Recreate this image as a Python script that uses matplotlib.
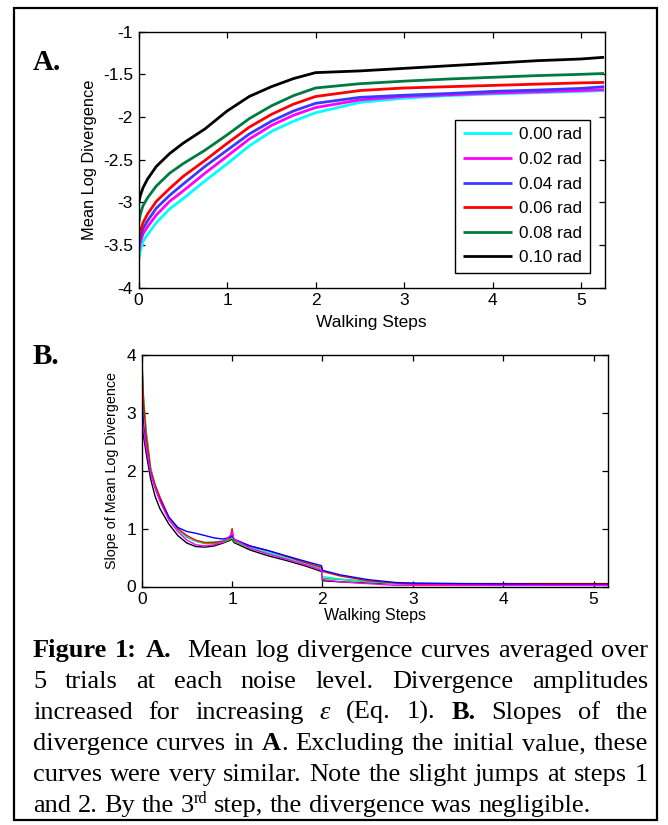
import matplotlib
matplotlib.use("Agg")
import matplotlib.pyplot as plt
from matplotlib.patches import Rectangle
import numpy as np

W, H = 668, 825
DPI = 100

# ---------------- data: panel A ----------------
x_a = [0, 0.02, 0.05, 0.1, 0.2, 0.35, 0.5, 0.75, 1.0, 1.25, 1.5, 1.75, 2.0,
       2.5, 3.0, 3.5, 4.0, 4.5, 5.0, 5.26]
a_000 = [-3.68, -3.57, -3.46, -3.38, -3.24, -3.08, -2.96, -2.75, -2.55, -2.34, -2.17, -2.05, -1.95,
         -1.83, -1.78, -1.75, -1.73, -1.715, -1.70, -1.69]
a_002 = [-3.58, -3.47, -3.37, -3.29, -3.15, -2.99, -2.87, -2.66, -2.46, -2.26, -2.10, -1.98, -1.89,
         -1.80, -1.76, -1.74, -1.72, -1.705, -1.69, -1.68]
a_004 = [-3.52, -3.41, -3.31, -3.22, -3.07, -2.92, -2.79, -2.58, -2.39, -2.20, -2.05, -1.93, -1.84,
         -1.77, -1.745, -1.725, -1.70, -1.685, -1.665, -1.645]
a_006 = [-3.45, -3.34, -3.24, -3.14, -2.99, -2.84, -2.70, -2.51, -2.31, -2.12, -1.97, -1.85, -1.76,
         -1.69, -1.66, -1.645, -1.63, -1.615, -1.60, -1.595]
a_008 = [-3.25, -3.14, -3.04, -2.95, -2.81, -2.66, -2.55, -2.39, -2.21, -2.02, -1.87, -1.75, -1.66,
         -1.61, -1.58, -1.555, -1.535, -1.515, -1.50, -1.49]
a_010 = [-3.02, -2.92, -2.83, -2.73, -2.58, -2.43, -2.31, -2.14, -1.93, -1.76, -1.645, -1.55, -1.48,
         -1.46, -1.43, -1.40, -1.37, -1.34, -1.32, -1.30]

labels = ["0.00 rad", "0.02 rad", "0.04 rad", "0.06 rad", "0.08 rad", "0.10 rad"]

# ---------------- data: panel B ----------------
x_b = [0, 0.02, 0.05, 0.1, 0.15, 0.2, 0.3, 0.4, 0.5, 0.6, 0.7, 0.8, 0.9, 0.98, 1.0, 1.02,
       1.2, 1.4, 1.6, 1.8, 1.99, 2.0, 2.2, 2.5, 2.8, 3.0, 3.5, 4.0, 4.5, 5.0, 5.16]
b_red = [4.0, 3.2, 2.6, 2.0, 1.75, 1.55, 1.2, 1.0, 0.88, 0.80, 0.76, 0.76, 0.78, 0.85, 1.0, 0.80,
         0.70, 0.62, 0.52, 0.42, 0.33, 0.26, 0.18, 0.10, 0.06, 0.04, 0.04, 0.04, 0.04, 0.04, 0.04]
b_blue = [3.4, 2.8, 2.4, 1.95, 1.7, 1.5, 1.2, 1.02, 0.95, 0.92, 0.88, 0.84, 0.82, 0.85, 0.88, 0.82,
          0.70, 0.62, 0.53, 0.44, 0.36, 0.28, 0.20, 0.12, 0.07, 0.06, 0.05, 0.04, 0.03, 0.03, 0.03]
b_green = [4.0, 3.3, 2.7, 2.05, 1.75, 1.55, 1.2, 0.98, 0.85, 0.78, 0.74, 0.74, 0.76, 0.82, 0.85, 0.78,
           0.66, 0.57, 0.48, 0.39, 0.30, 0.14, 0.12, 0.08, 0.05, 0.03, 0.03, 0.03, 0.03, 0.03, 0.03]
b_cyan = [3.9, 3.2, 2.6, 2.0, 1.72, 1.5, 1.18, 0.98, 0.85, 0.78, 0.76, 0.77, 0.79, 0.84, 0.88, 0.80,
          0.68, 0.59, 0.50, 0.41, 0.32, 0.17, 0.13, 0.09, 0.05, 0.04, 0.03, 0.02, 0.02, 0.02, 0.02]
b_magenta = [2.9, 2.7, 2.4, 1.95, 1.7, 1.48, 1.15, 0.95, 0.80, 0.72, 0.70, 0.72, 0.77, 0.88, 0.95, 0.82,
             0.66, 0.56, 0.47, 0.38, 0.28, 0.12, 0.08, 0.05, 0.02, 0.02, 0.02, 0.02, 0.02, 0.02, 0.02]
b_black = [2.9, 2.6, 2.3, 1.85, 1.55, 1.35, 1.08, 0.88, 0.75, 0.69, 0.68, 0.70, 0.75, 0.80, 0.82, 0.76,
           0.63, 0.53, 0.45, 0.36, 0.26, 0.10, 0.08, 0.06, 0.05, 0.05, 0.05, 0.05, 0.05, 0.05, 0.05]

# ---------------- caption ----------------
caption_lines = [
    "**Figure 1: A.**  Mean log divergence curves averaged over",
    "5 trials at each noise level. Divergence amplitudes",
    "increased for increasing _ε_ (Eq. 1). **B.** Slopes of the",
    "divergence curves in **A**. Excluding the initial value, these",
    "curves were very similar. Note the slight jumps at steps 1",
    "and 2. By the 3^rd^ step, the divergence was negligible.",
]

# ---------------- figure ----------------
plt.rcParams['font.family'] = ['Liberation Sans', 'DejaVu Sans']
fig = plt.figure(figsize=(W / DPI, H / DPI), dpi=DPI)


def fx(px):
    return px / W


def fy(py):
    return 1 - py / H


def style_axes(ax):
    ax.tick_params(direction='in', top=True, right=True, length=4.5, width=0.9,
                   labelsize=12.5, pad=4, colors='black')
    for s in ax.spines.values():
        s.set_linewidth(1.0)
        s.set_color('black')


# Panel A
axA = fig.add_axes([fx(138.6), fy(287.5), fx(604.5) - fx(138.6), fy(31.7) - fy(287.5)])
colorsA = ['#00ffff', '#ff00ff', '#3a3aff', '#ff0000', '#007a40', '#000000']
seriesA = [a_000, a_002, a_004, a_006, a_008, a_010]
for ys, c, lab in zip(seriesA, colorsA, labels):
    axA.plot(x_a, ys, color=c, lw=2.0, label=lab, solid_capstyle='butt')
axA.set_xlim(0, 5.265)
axA.set_ylim(-4, -1)
axA.set_xticks([0, 1, 2, 3, 4, 5])
axA.set_yticks([-4, -3.5, -3, -2.5, -2, -1.5, -1])
axA.set_yticklabels(['-4', '-3.5', '-3', '-2.5', '-2', '-1.5', '-1'])
axA.set_xlabel("Walking Steps", fontsize=12.5, labelpad=5)
axA.set_ylabel("Mean Log Divergence", fontsize=11.8, labelpad=4)
style_axes(axA)
leg = axA.legend(loc='lower right', fontsize=12.3, frameon=True, fancybox=False,
                 framealpha=1, edgecolor='black', handlelength=2.9, handletextpad=0.4,
                 labelspacing=0.56, borderpad=0.45, borderaxespad=0.85)
leg.get_frame().set_linewidth(1.0)

# Panel B
axB = fig.add_axes([fx(141.7), fy(586.5), fx(608) - fx(141.7), fy(355) - fy(586.5)])
seriesB = [(b_black, '#000000'), (b_green, '#00e000'), (b_cyan, '#00e8e8'),
           (b_red, '#ff0000'), (b_blue, '#0000ff'), (b_magenta, '#ff00ff')]
for ys, c in seriesB:
    axB.plot(x_b, ys, color=c, lw=1.0)
axB.set_xlim(0, 5.16)
axB.set_ylim(0, 4)
axB.set_xticks([0, 1, 2, 3, 4, 5])
axB.set_yticks([0, 1, 2, 3, 4])
axB.set_xlabel("Walking Steps", fontsize=11.5, labelpad=1)
axB.set_ylabel("Slope of Mean Log Divergence", fontsize=10.3, labelpad=5)
style_axes(axB)

# Panel letters
fig.text(fx(33), fy(70), "A.", fontsize=21, fontweight='bold', family='Liberation Serif',
         va='baseline', ha='left')
fig.text(fx(33), fy(364), "B.", fontsize=21, fontweight='bold', family='Liberation Serif',
         va='baseline', ha='left')

# Outer border
fig.patches.append(Rectangle((fx(13.5), fy(820)), fx(656.5) - fx(13.5), fy(7.5) - fy(820),
                             transform=fig.transFigure, fill=False, lw=1.6, ec='black'))

# ---------------- justified caption ----------------
CAP_FS = 19
CAP_X0, CAP_X1 = 33, 648
baselines = [657, 688, 719, 750, 781, 812]
renderer = fig.canvas.get_renderer()


def parse_line(line):
    """Return list of words; each word is list of (text, style) segments; plus gap units."""
    words = []
    gaps = []
    bold = False
    ital = False
    sup = False
    pending_gap = 0
    for tok in line.split(' '):
        if tok == '':
            pending_gap += 1
            continue
        segs = []
        cur = ''
        i = 0
        while i < len(tok):
            if tok.startswith('**', i):
                if cur:
                    segs.append((cur, bold, ital, sup))
                cur = ''
                bold = not bold
                i += 2
                continue
            ch = tok[i]
            if ch == '_':
                if cur:
                    segs.append((cur, bold, ital, sup))
                cur = ''
                ital = not ital
                i += 1
                continue
            if ch == '^':
                if cur:
                    segs.append((cur, bold, ital, sup))
                cur = ''
                sup = not sup
                i += 1
                continue
            cur += ch
            i += 1
        if cur:
            segs.append((cur, bold, ital, sup))
        if words:
            gaps.append(pending_gap + 1)
        pending_gap = 0
        words.append(segs)
    return words, gaps


def make_text(s, b, it, sp, x, y):
    fs = CAP_FS * (0.62 if sp else 1.0)
    yy = y - (9 if sp else 0)
    t = fig.text(fx(x), fy(yy), s, fontsize=fs, family='Liberation Serif',
                 fontweight='bold' if b else 'normal',
                 fontstyle='italic' if it else 'normal',
                 va='baseline', ha='left')
    return t


def seg_width(s, b, it, sp):
    t = make_text(s, b, it, sp, 0, 0)
    w = t.get_window_extent(renderer).width
    t.remove()
    return w


space_w = seg_width("a b", False, False, False) - seg_width("ab", False, False, False)

for li, (line, yb) in enumerate(zip(caption_lines, baselines)):
    words, gaps = parse_line(line)
    widths = [[seg_width(*seg) for seg in wd] for wd in words]
    total = sum(sum(w) for w in widths)
    last = (li == len(caption_lines) - 1)
    if last or not gaps:
        unit = space_w
    else:
        unit = (CAP_X1 - CAP_X0 - total) / sum(gaps)
    x = CAP_X0
    for wi, (wd, ws) in enumerate(zip(words, widths)):
        for seg, w in zip(wd, ws):
            make_text(*seg, x, yb)
            x += w
        if wi < len(gaps):
            x += unit * gaps[wi]

fig.savefig("out.png", dpi=DPI)
